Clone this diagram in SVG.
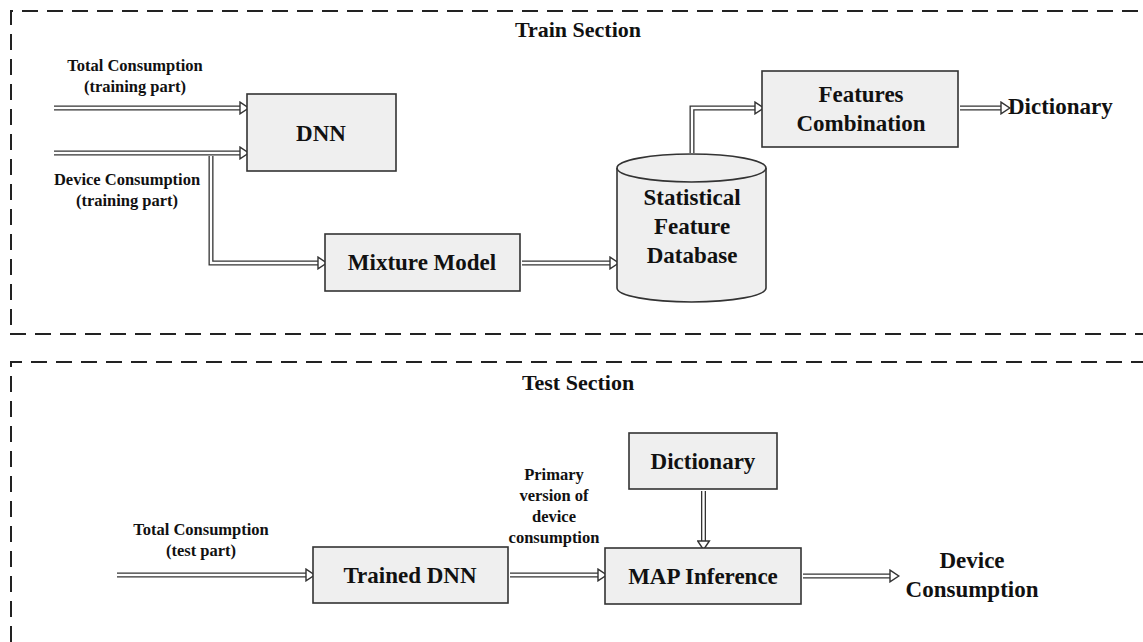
<svg xmlns="http://www.w3.org/2000/svg" width="1143" height="642" viewBox="0 0 1143 642">
<style>
text{font-family:"Liberation Serif","Times New Roman",serif;font-weight:bold;fill:#111;text-anchor:middle}
.sm{font-size:16.5px}
.lg{font-size:23px}
.ttl{font-size:22px}
.box{fill:#efefef;stroke:#333;stroke-width:1.6}
.dash{fill:none;stroke:#222;stroke-width:2;stroke-dasharray:16 9}
.out{fill:none;stroke:#333;stroke-width:5}
.in{fill:none;stroke:#fff;stroke-width:2.4;marker-end:url(#head)}
</style>
<defs>
<marker id="head" markerUnits="userSpaceOnUse" markerWidth="12" markerHeight="14" refX="0" refY="6" orient="auto" viewBox="-1 0 10 12">
<path d="M0,1 L7.5,6 L0,11 Z" fill="#fff" stroke="#333" stroke-width="1.2"/>
</marker>
</defs>
<g id="frames">
<path class="dash" d="M11,325 L11,11 L1143,11"/>
<path class="dash" d="M10,334 L1143,334"/>
<path class="dash" d="M11,642 L11,362 L1143,362"/>
<text class="ttl" x="578" y="37">Train Section</text>
<text class="ttl" x="578" y="390">Test Section</text>
</g>
<g id="connectors">
<path class="out" d="M54,108 L240,108"/>
<path class="out" d="M54,153 L240,153"/>
<path class="out" d="M211,156 L211,263 L318,263"/>
<path class="out" d="M522,263 L610,263"/>
<path class="out" d="M692,153 L692,108 L755,108"/>
<path class="out" d="M960,108 L1001,108"/>
<path class="out" d="M117,575 L306,575"/>
<path class="out" d="M510,575 L598,575"/>
<path class="out" d="M703.5,491 L703.5,541"/>
<path class="out" d="M803,576 L890,576"/>
<path class="in" d="M54,108 L240,108"/>
<path class="in" d="M54,153 L240,153"/>
<path class="in" d="M211,156 L211,263 L318,263"/>
<path class="in" d="M522,263 L610,263"/>
<path class="in" d="M692,153 L692,108 L755,108"/>
<path class="in" d="M960,108 L1001,108"/>
<path class="in" d="M117,575 L306,575"/>
<path class="in" d="M510,575 L598,575"/>
<path class="in" d="M703.5,491 L703.5,541"/>
<path class="in" d="M803,576 L890,576"/>
</g>
<g id="label-total-train">
<text class="sm" x="135" y="71">Total Consumption</text>
<text class="sm" x="135" y="92">(training part)</text>
</g>
<g id="label-device-train">
<text class="sm" x="127" y="185">Device Consumption</text>
<text class="sm" x="127" y="206">(training part)</text>
</g>
<g id="dnn">
<rect class="box" x="247" y="94" width="149" height="77"/>
<text class="lg" x="321" y="141">DNN</text>
</g>
<g id="mixture">
<rect class="box" x="325" y="234" width="195" height="57"/>
<text class="lg" x="422" y="270">Mixture Model</text>
</g>
<g id="database">
<path class="box" d="M617,168 L617,288 A74.5,14 0 0 0 766,288 L766,168 A74.5,14 0 0 0 617,168 Z"/>
<path fill="none" stroke="#333" stroke-width="1.6" d="M617,168 A74.5,14 0 0 0 766,168"/>
<text class="lg" x="692" y="205">Statistical</text>
<text class="lg" x="692" y="234">Feature</text>
<text class="lg" x="692" y="263">Database</text>
</g>
<g id="features">
<rect class="box" x="762" y="71" width="196" height="76"/>
<text class="lg" x="861" y="102">Features</text>
<text class="lg" x="861" y="131">Combination</text>
</g>
<g id="dictionary-out">
<text class="lg" x="1008" y="114" style="text-anchor:start">Dictionary</text>
</g>
<g id="label-total-test">
<text class="sm" x="201" y="535">Total Consumption</text>
<text class="sm" x="201" y="556">(test part)</text>
</g>
<g id="trained-dnn">
<rect class="box" x="313" y="547" width="195" height="56"/>
<text class="lg" x="410" y="583">Trained DNN</text>
</g>
<g id="label-primary">
<text class="sm" x="554" y="480">Primary</text>
<text class="sm" x="554" y="501">version of</text>
<text class="sm" x="554" y="522">device</text>
<text class="sm" x="554" y="543">consumption</text>
</g>
<g id="dictionary">
<rect class="box" x="629" y="433" width="148" height="56"/>
<text class="lg" x="703" y="469">Dictionary</text>
</g>
<g id="map">
<rect class="box" x="605" y="548" width="196" height="56"/>
<text class="lg" x="703" y="584">MAP Inference</text>
</g>
<g id="device-out">
<text class="lg" x="972" y="568">Device</text>
<text class="lg" x="972" y="597">Consumption</text>
</g>
</svg>
